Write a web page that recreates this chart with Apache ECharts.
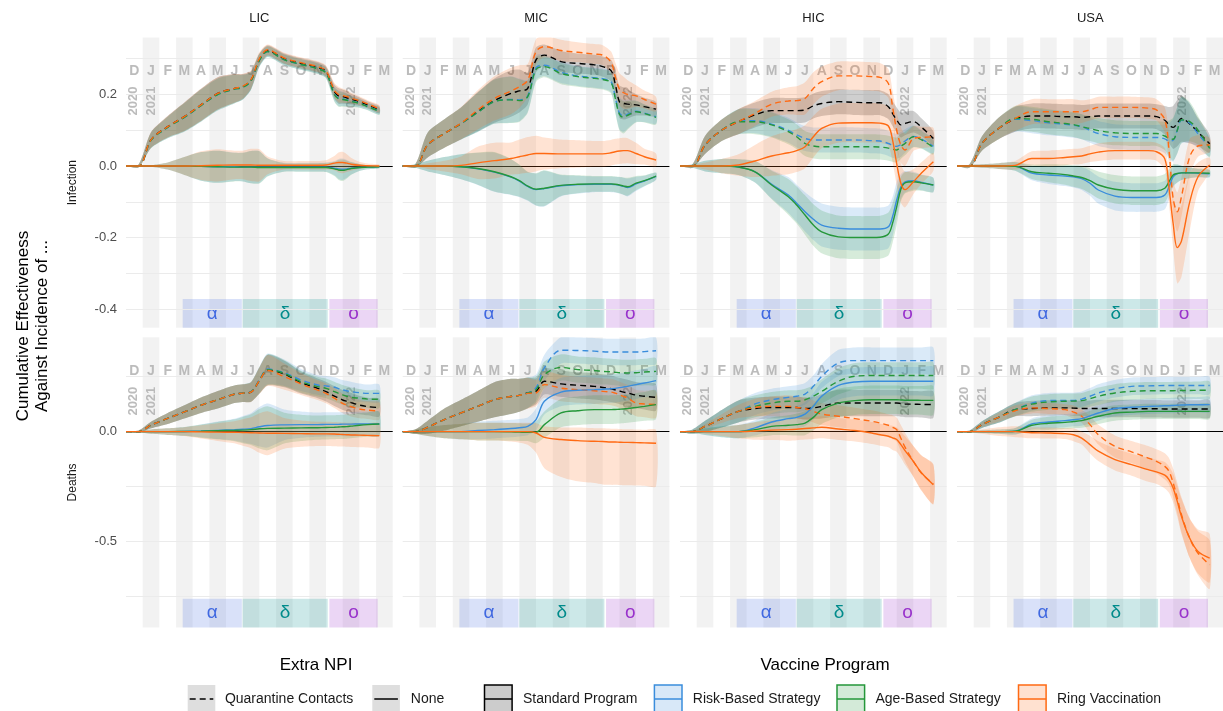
<!DOCTYPE html>
<html><head><meta charset="utf-8">
<script src="https://cdn.jsdelivr.net/npm/echarts@6/dist/echarts.min.js"></script>
<style>html,body{margin:0;padding:0;background:#fff}#c{width:1223px;height:711px}</style>
</head><body><div id="c"></div>
<script>
// ---------------- DATA ----------------
// x positions in months since 1 Dec 2020
const X = [0,0.75,1.5,2.5,3.5,4.5,5.5,6.5,7,7.5,8,8.5,9.5,10.5,11.5,12,12.5,12.75,13,13.25,13.5,14,14.5,15.2];
const MONTH_LETTERS = ['D','J','F','M','A','M','J','J','A','S','O','N','D','J','F','M'];
const SHADED_MONTHS = [1,3,5,7,9,11,13,15];
const YEAR_LABELS = ['2020','2021','2022'];
const YEAR_POS = [0.45,1.5,13.55];
const VARIANT_SYMBOLS = ['α','δ','ο'];
const VARIANT_START = [3.4,6.99,12.2];
const VARIANT_END = [6.95,12.1,15.1];
const REGIONS = ['LIC','MIC','HIC','USA'];
const OUTCOMES = ['Infection','Deaths'];
const NPIS = ['Quarantine Contacts','None'];
const PROGRAMS = ['Standard Program','Risk-Based Strategy','Age-Based Strategy','Ring Vaccination'];
const TICKS_INF = [-0.4,-0.2,0,0.2];
const TICKS_DTH = [-0.5,0];
const GRID_INF = [-0.4,-0.3,-0.2,-0.1,0.1,0.2,0.3];
const GRID_DTH = [-0.75,-0.5,-0.25,0.25];

// Infection
const inf_LIC_std_q = [0,0,0.073,0.11,0.138,0.171,0.203,0.217,0.222,0.24,0.297,0.323,0.3,0.287,0.276,0.264,0.208,0.196,0.194,0.191,0.187,0.18,0.171,0.157];
const inf_LIC_risk_q = [0,0,0.072,0.108,0.136,0.169,0.2,0.215,0.22,0.238,0.295,0.32,0.297,0.284,0.273,0.261,0.202,0.19,0.188,0.185,0.182,0.176,0.167,0.154];
const inf_LIC_age_q = [0,0,0.072,0.108,0.136,0.169,0.2,0.215,0.22,0.238,0.295,0.32,0.297,0.284,0.272,0.26,0.2,0.188,0.186,0.184,0.181,0.175,0.166,0.153];
const inf_LIC_ring_q = [0,0,0.073,0.11,0.138,0.171,0.203,0.217,0.223,0.242,0.3,0.325,0.302,0.289,0.278,0.266,0.212,0.2,0.197,0.194,0.19,0.183,0.174,0.16];
const inf_LIC_w_q = [0,0.004,0.022,0.03,0.04,0.045,0.045,0.04,0.035,0.025,0.018,0.015,0.015,0.015,0.015,0.015,0.02,0.022,0.02,0.018,0.015,0.012,0.01,0.01];
const inf_LIC_risk_n = [0,0,0,0,0,-0.001,-0.002,-0.002,-0.003,-0.003,-0.003,-0.003,-0.003,-0.003,-0.003,-0.003,-0.006,-0.008,-0.009,-0.008,-0.006,-0.004,-0.003,-0.002];
const inf_LIC_age_n = [0,0,0,0,0,-0.001,-0.002,-0.003,-0.003,-0.003,-0.004,-0.004,-0.004,-0.004,-0.004,-0.004,-0.008,-0.011,-0.012,-0.01,-0.007,-0.004,-0.003,-0.002];
const inf_LIC_ring_n = [0,0,0,0,0,0.001,0.002,0.003,0.003,0.003,0.002,0.002,0.002,0.002,0.002,0.003,0.008,0.01,0.01,0.008,0.005,0.002,0.001,0];
const inf_LIC_w_n = [0,0,0.002,0.01,0.025,0.04,0.045,0.04,0.04,0.045,0.045,0.025,0.012,0.012,0.012,0.013,0.02,0.028,0.03,0.025,0.018,0.01,0.006,0.004];

const inf_MIC_std_q = [0,0,0.059,0.091,0.119,0.152,0.183,0.203,0.21,0.217,0.297,0.31,0.292,0.287,0.283,0.278,0.267,0.23,0.18,0.175,0.173,0.171,0.166,0.159];
const inf_MIC_risk_q = [0,0,0.059,0.091,0.119,0.15,0.18,0.186,0.185,0.196,0.275,0.282,0.262,0.252,0.247,0.244,0.236,0.192,0.148,0.14,0.145,0.153,0.148,0.138];
const inf_MIC_age_q = [0,0,0.059,0.091,0.119,0.15,0.18,0.185,0.183,0.194,0.27,0.278,0.259,0.25,0.245,0.242,0.233,0.19,0.145,0.136,0.142,0.152,0.147,0.136];
const inf_MIC_ring_q = [0,0,0.059,0.091,0.12,0.157,0.189,0.21,0.222,0.24,0.32,0.334,0.323,0.318,0.313,0.31,0.29,0.25,0.215,0.205,0.2,0.196,0.186,0.173];
const inf_MIC_w_q = [0,0.005,0.035,0.04,0.045,0.055,0.062,0.065,0.06,0.045,0.035,0.03,0.03,0.028,0.028,0.028,0.03,0.04,0.045,0.045,0.04,0.03,0.025,0.02];
const inf_MIC_risk_n = [0,0,0,0,-0.002,-0.008,-0.017,-0.031,-0.042,-0.057,-0.066,-0.063,-0.055,-0.052,-0.051,-0.051,-0.051,-0.052,-0.054,-0.057,-0.06,-0.05,-0.042,-0.029];
const inf_MIC_age_n = [0,0,0,0,-0.002,-0.007,-0.016,-0.03,-0.041,-0.056,-0.065,-0.062,-0.054,-0.051,-0.05,-0.05,-0.05,-0.051,-0.053,-0.056,-0.058,-0.048,-0.041,-0.028];
const inf_MIC_ring_n = [0,0,0,0,0.002,0.009,0.015,0.021,0.026,0.031,0.035,0.035,0.034,0.034,0.034,0.034,0.037,0.04,0.042,0.043,0.043,0.035,0.026,0.017];
const inf_MIC_w_n = [0,0.005,0.015,0.025,0.035,0.045,0.055,0.05,0.045,0.04,0.045,0.05,0.03,0.025,0.022,0.022,0.022,0.022,0.023,0.024,0.025,0.02,0.015,0.01];
const inf_MIC_w_ring_n = [0,0.003,0.008,0.015,0.025,0.045,0.05,0.045,0.048,0.05,0.05,0.045,0.04,0.038,0.036,0.036,0.036,0.036,0.036,0.036,0.035,0.03,0.022,0.018];

const inf_HIC_std_q = [0,0,0.059,0.1,0.124,0.143,0.155,0.155,0.155,0.157,0.168,0.175,0.18,0.178,0.177,0.177,0.166,0.147,0.129,0.115,0.119,0.124,0.108,0.077];
const inf_HIC_risk_q = [0,0,0.059,0.1,0.124,0.127,0.117,0.1,0.087,0.077,0.073,0.073,0.073,0.073,0.071,0.07,0.063,0.058,0.055,0.06,0.07,0.083,0.075,0.055];
const inf_HIC_age_q = [0,0,0.059,0.1,0.124,0.124,0.115,0.096,0.082,0.063,0.056,0.054,0.054,0.054,0.054,0.053,0.05,0.047,0.045,0.055,0.063,0.082,0.073,0.052];
const inf_HIC_ring_q = [0,0,0.059,0.1,0.124,0.147,0.173,0.182,0.183,0.189,0.217,0.236,0.252,0.252,0.25,0.248,0.231,0.166,0.1,0.059,0.045,0.077,0.08,0.082];
const inf_HIC_w_q = [0,0.005,0.025,0.03,0.035,0.035,0.035,0.035,0.035,0.035,0.035,0.035,0.035,0.035,0.035,0.035,0.035,0.035,0.035,0.035,0.033,0.03,0.025,0.02];
const inf_HIC_w_ring_q = [0,0.005,0.025,0.03,0.035,0.035,0.035,0.038,0.04,0.045,0.045,0.042,0.04,0.04,0.04,0.04,0.04,0.045,0.05,0.05,0.045,0.035,0.03,0.025];
const inf_HIC_risk_n = [0,0,0,0,-0.003,-0.016,-0.051,-0.081,-0.104,-0.128,-0.149,-0.165,-0.174,-0.176,-0.176,-0.176,-0.17,-0.142,-0.095,-0.058,-0.044,-0.041,-0.046,-0.053];
const inf_HIC_age_n = [0,0,0,0,-0.003,-0.016,-0.053,-0.086,-0.109,-0.137,-0.165,-0.184,-0.198,-0.2,-0.2,-0.199,-0.19,-0.16,-0.114,-0.065,-0.047,-0.044,-0.047,-0.053];
const inf_HIC_ring_n = [0,0,0,0,0.003,0.014,0.028,0.037,0.043,0.054,0.082,0.105,0.12,0.121,0.121,0.12,0.112,0.073,0.007,-0.048,-0.066,-0.044,-0.019,0.012];
const inf_HIC_w_n = [0,0.005,0.015,0.02,0.022,0.03,0.04,0.05,0.052,0.055,0.058,0.06,0.06,0.06,0.06,0.06,0.06,0.055,0.05,0.035,0.03,0.025,0.022,0.02];
const inf_HIC_w_ring_n = [0,0.003,0.01,0.02,0.03,0.045,0.055,0.06,0.06,0.06,0.058,0.055,0.055,0.055,0.055,0.055,0.055,0.06,0.06,0.055,0.05,0.035,0.03,0.025];

const inf_USA_std_q = [0,0,0.063,0.105,0.131,0.14,0.14,0.138,0.138,0.136,0.138,0.14,0.14,0.14,0.14,0.138,0.128,0.115,0.108,0.12,0.133,0.118,0.095,0.062];
const inf_USA_risk_q = [0,0,0.063,0.105,0.131,0.127,0.121,0.117,0.114,0.11,0.1,0.091,0.082,0.08,0.08,0.08,0.076,0.07,0.072,0.1,0.128,0.12,0.09,0.052];
const inf_USA_age_q = [0,0,0.063,0.105,0.133,0.131,0.124,0.119,0.116,0.11,0.105,0.099,0.093,0.091,0.091,0.091,0.084,0.077,0.075,0.1,0.129,0.124,0.1,0.049];
const inf_USA_ring_q = [0,0,0.063,0.105,0.133,0.152,0.152,0.152,0.152,0.152,0.157,0.164,0.164,0.164,0.162,0.157,0.129,0.045,-0.09,-0.128,-0.086,0.026,0.056,0.059];
const inf_USA_w_q = [0,0.005,0.02,0.03,0.035,0.035,0.035,0.035,0.035,0.035,0.035,0.035,0.035,0.035,0.035,0.035,0.04,0.05,0.06,0.065,0.065,0.055,0.04,0.025];
const inf_USA_w_ring_q = [0,0.005,0.02,0.03,0.035,0.035,0.035,0.035,0.035,0.032,0.03,0.03,0.03,0.03,0.03,0.03,0.035,0.045,0.05,0.055,0.055,0.05,0.03,0.02];
const inf_USA_risk_n = [0,0,0,0,-0.001,-0.02,-0.025,-0.028,-0.03,-0.035,-0.048,-0.067,-0.084,-0.088,-0.088,-0.088,-0.081,-0.058,-0.03,-0.021,-0.019,-0.019,-0.02,-0.022];
const inf_USA_age_n = [0,0,0,0,-0.001,-0.016,-0.02,-0.024,-0.028,-0.032,-0.041,-0.053,-0.065,-0.069,-0.069,-0.069,-0.062,-0.044,-0.025,-0.021,-0.019,-0.019,-0.019,-0.02];
const inf_USA_ring_n = [0,0,0,0,0.002,0.021,0.021,0.024,0.026,0.028,0.034,0.039,0.043,0.043,0.043,0.04,0.02,-0.06,-0.16,-0.228,-0.21,-0.1,-0.03,0.003];
const inf_USA_w_n = [0,0.003,0.005,0.008,0.012,0.02,0.025,0.028,0.03,0.032,0.035,0.038,0.04,0.04,0.04,0.04,0.04,0.035,0.03,0.025,0.02,0.015,0.012,0.01];
const inf_USA_w_ring_n = [0,0.003,0.005,0.008,0.012,0.02,0.022,0.022,0.022,0.022,0.023,0.025,0.025,0.025,0.025,0.025,0.03,0.045,0.07,0.1,0.1,0.08,0.04,0.02];

// Deaths
const dth_LIC_std_q = [0,0,0.03,0.06,0.09,0.12,0.145,0.17,0.175,0.18,0.232,0.28,0.262,0.223,0.197,0.182,0.162,0.153,0.144,0.138,0.132,0.121,0.114,0.109];
const dth_LIC_risk_q = [0,0,0.03,0.06,0.09,0.12,0.145,0.17,0.175,0.182,0.235,0.285,0.268,0.235,0.212,0.208,0.202,0.196,0.19,0.186,0.182,0.177,0.174,0.174];
const dth_LIC_age_q = [0,0,0.03,0.06,0.09,0.12,0.145,0.17,0.175,0.181,0.233,0.282,0.265,0.227,0.205,0.197,0.182,0.174,0.167,0.161,0.156,0.152,0.148,0.147];
const dth_LIC_ring_q = [0,0,0.03,0.06,0.09,0.12,0.145,0.17,0.175,0.18,0.232,0.278,0.25,0.217,0.189,0.174,0.152,0.14,0.129,0.121,0.114,0.103,0.098,0.094];
const dth_LIC_w_q = [0,0.005,0.015,0.025,0.03,0.035,0.04,0.04,0.04,0.045,0.06,0.07,0.06,0.05,0.045,0.045,0.045,0.045,0.045,0.045,0.045,0.042,0.04,0.04];
const dth_LIC_risk_n = [0,0,0,0,0.001,0.003,0.006,0.009,0.011,0.014,0.022,0.028,0.031,0.032,0.032,0.033,0.033,0.033,0.034,0.034,0.034,0.035,0.035,0.035];
const dth_LIC_age_n = [0,0,0,0,0.001,0.002,0.004,0.006,0.007,0.009,0.013,0.015,0.016,0.017,0.018,0.019,0.02,0.021,0.022,0.023,0.025,0.029,0.032,0.035];
const dth_LIC_ring_n = [0,0,0,0,0,-0.001,-0.002,-0.003,-0.004,-0.005,-0.006,-0.007,-0.008,-0.009,-0.01,-0.01,-0.011,-0.012,-0.013,-0.014,-0.015,-0.016,-0.017,-0.018];
const dth_LIC_w_n = [0,0.003,0.01,0.015,0.02,0.03,0.04,0.05,0.06,0.07,0.09,0.1,0.07,0.06,0.055,0.055,0.055,0.055,0.055,0.055,0.055,0.055,0.055,0.055];

const dth_MIC_std_q = [0,0,0.02,0.055,0.085,0.115,0.145,0.16,0.165,0.176,0.183,0.229,0.217,0.211,0.206,0.201,0.195,0.19,0.185,0.18,0.176,0.166,0.161,0.156];
const dth_MIC_risk_q = [0,0,0.02,0.055,0.085,0.115,0.145,0.16,0.165,0.176,0.2,0.29,0.37,0.369,0.366,0.363,0.362,0.362,0.362,0.362,0.362,0.362,0.364,0.368];
const dth_MIC_age_q = [0,0,0.02,0.055,0.085,0.115,0.145,0.16,0.165,0.176,0.191,0.259,0.292,0.282,0.278,0.274,0.272,0.27,0.268,0.267,0.267,0.268,0.271,0.274];
const dth_MIC_ring_q = [0,0,0.02,0.055,0.085,0.115,0.145,0.16,0.165,0.174,0.176,0.214,0.198,0.191,0.186,0.183,0.18,0.175,0.168,0.16,0.153,0.13,0.126,0.123];
const dth_MIC_w_q = [0,0.01,0.03,0.05,0.06,0.07,0.08,0.08,0.075,0.07,0.06,0.06,0.06,0.06,0.06,0.06,0.06,0.06,0.06,0.06,0.06,0.06,0.06,0.06];
const dth_MIC_risk_n = [0,0,0,0,0,0.005,0.009,0.014,0.018,0.024,0.055,0.138,0.18,0.188,0.191,0.193,0.195,0.197,0.2,0.203,0.206,0.214,0.221,0.232];
const dth_MIC_age_n = [0,0,0,0,0,0,0,-0.001,-0.002,-0.003,-0.003,0.032,0.085,0.095,0.1,0.1,0.1,0.101,0.102,0.103,0.105,0.11,0.115,0.123];
const dth_MIC_ring_n = [0,0,0,0,0,0,0,0,0,0,-0.006,-0.026,-0.036,-0.041,-0.044,-0.045,-0.047,-0.047,-0.048,-0.049,-0.049,-0.05,-0.051,-0.053];
const dth_MIC_w_n = [0,0.01,0.02,0.03,0.035,0.04,0.04,0.04,0.04,0.04,0.05,0.06,0.065,0.065,0.065,0.065,0.065,0.065,0.065,0.065,0.065,0.065,0.065,0.065];
const dth_MIC_wup_ring_n = [0,0.01,0.02,0.03,0.035,0.04,0.04,0.04,0.04,0.04,0.045,0.05,0.055,0.06,0.06,0.06,0.06,0.06,0.06,0.06,0.06,0.06,0.06,0.06];
const dth_MIC_wlo_ring_n = [0,0.01,0.02,0.03,0.035,0.04,0.04,0.045,0.05,0.06,0.09,0.14,0.17,0.185,0.19,0.195,0.195,0.195,0.195,0.195,0.195,0.195,0.195,0.195];

const dth_HIC_std_q = [0,0,0.024,0.059,0.092,0.105,0.11,0.11,0.11,0.105,0.108,0.115,0.13,0.13,0.13,0.13,0.13,0.13,0.13,0.128,0.126,0.125,0.124,0.123];
const dth_HIC_risk_q = [0,0,0.024,0.059,0.092,0.126,0.145,0.156,0.161,0.171,0.206,0.252,0.312,0.323,0.323,0.323,0.323,0.323,0.323,0.323,0.323,0.323,0.323,0.323];
const dth_HIC_age_q = [0,0,0.024,0.059,0.092,0.115,0.13,0.138,0.138,0.145,0.161,0.183,0.229,0.252,0.255,0.255,0.255,0.255,0.255,0.255,0.255,0.255,0.255,0.255];
const dth_HIC_ring_q = [0,0,0.024,0.059,0.092,0.11,0.115,0.115,0.11,0.105,0.092,0.08,0.07,0.059,0.047,0.039,0.029,0.02,0.009,-0.03,-0.07,-0.135,-0.19,-0.238];
const dth_HIC_w_q = [0,0.01,0.025,0.04,0.05,0.05,0.05,0.05,0.05,0.05,0.05,0.055,0.06,0.06,0.06,0.06,0.06,0.06,0.06,0.06,0.06,0.06,0.06,0.06];
const dth_HIC_risk_n = [0,0,0,0,0,0.017,0.044,0.059,0.065,0.08,0.115,0.161,0.21,0.226,0.229,0.229,0.229,0.229,0.229,0.229,0.229,0.229,0.229,0.229];
const dth_HIC_age_n = [0,0,0,0,0,0.009,0.024,0.029,0.032,0.039,0.065,0.1,0.13,0.141,0.145,0.145,0.145,0.145,0.145,0.144,0.143,0.143,0.142,0.142];
const dth_HIC_ring_n = [0,0,0,0,0,0.003,0.007,0.009,0.011,0.014,0.017,0.02,0.012,0.005,-0.006,-0.014,-0.021,-0.028,-0.036,-0.059,-0.086,-0.135,-0.188,-0.241];
const dth_HIC_w_n = [0,0.005,0.015,0.025,0.03,0.035,0.04,0.045,0.05,0.055,0.06,0.065,0.065,0.065,0.065,0.065,0.065,0.065,0.065,0.065,0.065,0.065,0.065,0.065];
const dth_HIC_w_ring_n = [0,0.005,0.01,0.02,0.03,0.04,0.045,0.05,0.05,0.05,0.05,0.05,0.05,0.05,0.05,0.05,0.05,0.055,0.055,0.06,0.065,0.07,0.08,0.09];

const dth_USA_std_q = [0,0,0.032,0.065,0.1,0.105,0.108,0.108,0.107,0.105,0.105,0.105,0.105,0.105,0.104,0.104,0.103,0.103,0.103,0.103,0.103,0.103,0.103,0.103];
const dth_USA_risk_q = [0,0,0.032,0.065,0.1,0.13,0.141,0.142,0.142,0.148,0.161,0.176,0.195,0.206,0.208,0.209,0.21,0.21,0.21,0.21,0.21,0.21,0.21,0.21];
const dth_USA_age_q = [0,0,0.032,0.065,0.1,0.125,0.135,0.138,0.139,0.141,0.15,0.161,0.176,0.183,0.186,0.186,0.186,0.186,0.186,0.187,0.187,0.187,0.188,0.188];
const dth_USA_ring_q = [0,0,0.032,0.065,0.095,0.108,0.105,0.1,0.089,0.07,0.032,-0.014,-0.067,-0.092,-0.12,-0.135,-0.158,-0.18,-0.233,-0.302,-0.377,-0.485,-0.553,-0.605];
const dth_USA_w_q = [0,0.005,0.015,0.025,0.03,0.035,0.035,0.035,0.035,0.035,0.037,0.04,0.04,0.04,0.04,0.04,0.04,0.04,0.04,0.04,0.04,0.04,0.04,0.04];
const dth_USA_w_ring = [0,0.003,0.01,0.02,0.025,0.025,0.025,0.025,0.03,0.03,0.04,0.045,0.05,0.05,0.055,0.055,0.06,0.06,0.065,0.07,0.08,0.09,0.1,0.11];
const dth_USA_risk_n = [0,0,0,0,0.002,0.035,0.044,0.05,0.054,0.059,0.072,0.085,0.105,0.111,0.115,0.116,0.118,0.118,0.119,0.12,0.121,0.122,0.122,0.123];
const dth_USA_age_n = [0,0,0,0,0.002,0.029,0.038,0.042,0.046,0.05,0.06,0.07,0.085,0.089,0.092,0.092,0.092,0.092,0.092,0.092,0.092,0.092,0.092,0.092];
const dth_USA_ring_n = [0,0,0,0,0,-0.005,-0.006,-0.009,-0.014,-0.029,-0.059,-0.089,-0.127,-0.15,-0.173,-0.183,-0.198,-0.218,-0.256,-0.317,-0.385,-0.485,-0.545,-0.575];
const dth_USA_w_n = [0,0.003,0.006,0.01,0.015,0.025,0.03,0.03,0.03,0.032,0.035,0.035,0.035,0.035,0.035,0.035,0.035,0.035,0.035,0.035,0.035,0.035,0.035,0.035];

// panel -> [program, npi, mean, upper half-width, (optional) lower half-width]
const PANELS = [
 [0,'LIC',[['std','q',inf_LIC_std_q,inf_LIC_w_q],['risk','q',inf_LIC_risk_q,inf_LIC_w_q],['age','q',inf_LIC_age_q,inf_LIC_w_q],['ring','q',inf_LIC_ring_q,inf_LIC_w_q],
           ['risk','n',inf_LIC_risk_n,inf_LIC_w_n],['age','n',inf_LIC_age_n,inf_LIC_w_n],['ring','n',inf_LIC_ring_n,inf_LIC_w_n]]],
 [0,'MIC',[['std','q',inf_MIC_std_q,inf_MIC_w_q],['risk','q',inf_MIC_risk_q,inf_MIC_w_q],['age','q',inf_MIC_age_q,inf_MIC_w_q],['ring','q',inf_MIC_ring_q,inf_MIC_w_q],
           ['risk','n',inf_MIC_risk_n,inf_MIC_w_n],['age','n',inf_MIC_age_n,inf_MIC_w_n],['ring','n',inf_MIC_ring_n,inf_MIC_w_ring_n]]],
 [0,'HIC',[['std','q',inf_HIC_std_q,inf_HIC_w_q],['risk','q',inf_HIC_risk_q,inf_HIC_w_q],['age','q',inf_HIC_age_q,inf_HIC_w_q],['ring','q',inf_HIC_ring_q,inf_HIC_w_ring_q],
           ['risk','n',inf_HIC_risk_n,inf_HIC_w_n],['age','n',inf_HIC_age_n,inf_HIC_w_n],['ring','n',inf_HIC_ring_n,inf_HIC_w_ring_n]]],
 [0,'USA',[['std','q',inf_USA_std_q,inf_USA_w_q],['risk','q',inf_USA_risk_q,inf_USA_w_q],['age','q',inf_USA_age_q,inf_USA_w_q],['ring','q',inf_USA_ring_q,inf_USA_w_ring_q],
           ['risk','n',inf_USA_risk_n,inf_USA_w_n],['age','n',inf_USA_age_n,inf_USA_w_n],['ring','n',inf_USA_ring_n,inf_USA_w_ring_n]]],
 [1,'LIC',[['std','q',dth_LIC_std_q,dth_LIC_w_q],['risk','q',dth_LIC_risk_q,dth_LIC_w_q],['age','q',dth_LIC_age_q,dth_LIC_w_q],['ring','q',dth_LIC_ring_q,dth_LIC_w_q],
           ['risk','n',dth_LIC_risk_n,dth_LIC_w_n],['age','n',dth_LIC_age_n,dth_LIC_w_n],['ring','n',dth_LIC_ring_n,dth_LIC_w_n]]],
 [1,'MIC',[['std','q',dth_MIC_std_q,dth_MIC_w_q],['risk','q',dth_MIC_risk_q,dth_MIC_w_q],['age','q',dth_MIC_age_q,dth_MIC_w_q],['ring','q',dth_MIC_ring_q,dth_MIC_w_q],
           ['risk','n',dth_MIC_risk_n,dth_MIC_w_n],['age','n',dth_MIC_age_n,dth_MIC_w_n],['ring','n',dth_MIC_ring_n,dth_MIC_wup_ring_n,dth_MIC_wlo_ring_n]]],
 [1,'HIC',[['std','q',dth_HIC_std_q,dth_HIC_w_q],['risk','q',dth_HIC_risk_q,dth_HIC_w_q],['age','q',dth_HIC_age_q,dth_HIC_w_q],['ring','q',dth_HIC_ring_q,dth_HIC_w_ring_n],
           ['risk','n',dth_HIC_risk_n,dth_HIC_w_n],['age','n',dth_HIC_age_n,dth_HIC_w_n],['ring','n',dth_HIC_ring_n,dth_HIC_w_ring_n]]],
 [1,'USA',[['std','q',dth_USA_std_q,dth_USA_w_q],['risk','q',dth_USA_risk_q,dth_USA_w_q],['age','q',dth_USA_age_q,dth_USA_w_q],['ring','q',dth_USA_ring_q,dth_USA_w_ring],
           ['risk','n',dth_USA_risk_n,dth_USA_w_n],['age','n',dth_USA_age_n,dth_USA_w_n],['ring','n',dth_USA_ring_n,dth_USA_w_ring]]]
];

// ---------------- LAYOUT / STYLE ----------------
const FONT = '"Liberation Sans", Arial, Helvetica, sans-serif';
const COLORS = {std:'#000000', risk:'#3a8ddc', age:'#25973a', ring:'#ff6a13'};
const PROG_KEYS = ['std','risk','age','ring'];
const RIBBON_ALPHA = 0.19;
const SMOOTH = 0.35;
const COL_LEFT = [126, 402.7, 680, 957];
const PANEL_W = 266.7;
const ROW_TOP = [37.5, 337.3];
const PANEL_H = 290.3;
const Y_RANGE = [[-0.4523, 0.3594], [-0.891, 0.429]];
const MONTH_Y = [0.266, 0.276];
const YEAR_Y = [0.222, 0.2045];
const BAND_TOP = [-0.372, -0.76];
const VARIANT_FILL = ['rgba(65,105,225,0.2)','rgba(0,139,139,0.2)','rgba(153,50,204,0.2)'];
const VARIANT_TEXT = ['#4169e1','#008b8b','#9932cc'];

const chart = echarts.init(document.getElementById('c'), null, {renderer:'canvas'});
const grids = [], xAxes = [], yAxes = [], series = [];

PANELS.forEach(([r, reg, items]) => {
  const c = REGIONS.indexOf(reg);
  const gi = grids.length;
  const base = {xAxisIndex: gi, yAxisIndex: gi, silent: true, animation: false};
  grids.push({left: COL_LEFT[c], top: ROW_TOP[r], width: PANEL_W, height: PANEL_H});
  xAxes.push({gridIndex: gi, type: 'value', min: 0, max: 16, show: false});
  yAxes.push({gridIndex: gi, type: 'value', min: Y_RANGE[r][0], max: Y_RANGE[r][1],
    axisLine: {show: false}, axisTick: {show: false}, splitLine: {show: false},
    axisLabel: {show: c === 0, customValues: r === 0 ? TICKS_INF : TICKS_DTH,
      formatter: v => (Math.abs(v) < 1e-9 ? '0.0' : v.toFixed(1)),
      color: '#4d4d4d', fontSize: 13, fontFamily: FONT, margin: 9}});
  series.push({...base, type: 'line', data: [], z: 1,
    markLine: {silent: true, symbol: ['none','none'], label: {show: false}, animation: false,
      lineStyle: {color: '#ebebeb', width: 1, type: 'solid'},
      data: (r === 0 ? GRID_INF : GRID_DTH).map(v => ({yAxis: v}))}});
  series.push({...base, type: 'line', data: [], z: 2,
    markArea: {silent: true, animation: false, itemStyle: {color: 'rgba(0,0,0,0.05)'},
      data: SHADED_MONTHS.map(m => [{xAxis: m}, {xAxis: m + 1}])}});
  series.push({...base, type: 'line', data: [], z: 3,
    markArea: {silent: true, animation: false,
      data: VARIANT_SYMBOLS.map((s, i) => [
        {xAxis: VARIANT_START[i], yAxis: BAND_TOP[r], itemStyle: {color: VARIANT_FILL[i]},
         label: {show: true, position: 'inside', formatter: s, color: VARIANT_TEXT[i], fontSize: 19, fontFamily: FONT}},
        {xAxis: VARIANT_END[i], yAxis: Y_RANGE[r][0]}])}});
  series.push({...base, type: 'scatter', z: 4, symbolSize: 1, itemStyle: {color: 'rgba(0,0,0,0)'},
    data: MONTH_LETTERS.map((l, i) => [i + 0.5, MONTH_Y[r], l]),
    label: {show: true, position: 'inside', formatter: p => p.value[2], color: '#ababab',
      fontWeight: 'bold', fontSize: 14, fontFamily: FONT}});
  series.push({...base, type: 'scatter', z: 4, symbolSize: 1, itemStyle: {color: 'rgba(0,0,0,0)'},
    data: YEAR_LABELS.map((l, i) => [YEAR_POS[i], YEAR_Y[r], l]),
    label: {show: true, position: 'inside', rotate: 90, align: 'right', verticalAlign: 'middle',
      formatter: p => p.value[2], color: '#ababab', fontWeight: 'bold', fontSize: 13, fontFamily: FONT}});
  // ribbons: one polygon per series, drawn through the grid's scales
  items.forEach(([prog, npi, mid, wUp, wLo]) => {
    const lo = wLo || wUp;
    if (mid.length !== X.length || wUp.length !== X.length || lo.length !== X.length) throw new Error('length ' + reg + prog + npi);
    const band = X.map((x, i) => [x, mid[i] - lo[i], mid[i] + wUp[i]]);
    series.push({...base, type: 'custom', z: 5, clip: true, data: [[0, 0]],
      renderItem: (params, api) => {
        const up = band.map(d => api.coord([d[0], d[2]]));
        const dn = band.map(d => api.coord([d[0], d[1]])).reverse();
        return {type: 'polygon', shape: {points: up.concat(dn), smooth: 0.25},
          style: {fill: COLORS[prog], opacity: RIBBON_ALPHA}};
      }});
  });
  series.push({...base, type: 'line', data: [], z: 6,
    markLine: {silent: true, symbol: ['none','none'], label: {show: false}, animation: false,
      lineStyle: {color: '#000', width: 1.2, type: 'solid'}, data: [{yAxis: 0}]}});
  items.forEach(([prog, npi, mid]) => {
    series.push({...base, type: 'line', z: 7, symbol: 'none', smooth: SMOOTH,
      lineStyle: {color: COLORS[prog], width: 1.4, type: npi === 'q' ? [6, 4] : 'solid'},
      data: X.map((x, i) => [x, mid[i]])});
  });
});

// ---------------- TEXT / LEGEND ----------------
const graphics = [];
REGIONS.forEach((reg, c) => graphics.push({type: 'text', x: COL_LEFT[c] + PANEL_W / 2, y: 18,
  style: {text: reg, fill: '#1a1a1a', fontSize: 13, fontFamily: FONT, align: 'center', verticalAlign: 'middle'}}));
OUTCOMES.forEach((o, r) => graphics.push({type: 'text', x: 72.5, y: ROW_TOP[r] + PANEL_H / 2, rotation: Math.PI / 2,
  style: {text: o, fill: '#1a1a1a', fontSize: 12, fontFamily: FONT, align: 'center', verticalAlign: 'middle'}}));
graphics.push({type: 'text', x: 33, y: 326, rotation: Math.PI / 2,
  style: {text: 'Cumulative Effectiveness\nAgainst Incidence of ...', fill: '#000', fontSize: 17, lineHeight: 19.5,
    fontFamily: FONT, align: 'center', verticalAlign: 'middle'}});
graphics.push({type: 'text', x: 316, y: 665, style: {text: 'Extra NPI', fill: '#000', fontSize: 17, fontFamily: FONT, align: 'center', verticalAlign: 'middle'}});
graphics.push({type: 'text', x: 825, y: 665, style: {text: 'Vaccine Program', fill: '#000', fontSize: 17, fontFamily: FONT, align: 'center', verticalAlign: 'middle'}});
const KEY_Y = 685, KEY_W = 27.6, KEY_H = 28, LEG_TY = 699;
const NPI_KEY_X = [187.7, 372.3], NPI_TEXT_X = [224.9, 410.8];
const PROG_KEY_X = [484.5, 654.4, 837, 1018.5], PROG_TEXT_X = [523, 692.8, 875.5, 1057];
NPIS.forEach((name, i) => {
  graphics.push({type: 'rect', shape: {x: NPI_KEY_X[i], y: KEY_Y, width: KEY_W, height: KEY_H}, style: {fill: '#dedede'}});
  graphics.push({type: 'line', shape: {x1: NPI_KEY_X[i] + 2, y1: LEG_TY, x2: NPI_KEY_X[i] + KEY_W - 2, y2: LEG_TY},
    style: {stroke: '#000', lineWidth: 1.5, lineDash: i === 0 ? [6, 4] : null}});
  graphics.push({type: 'text', x: NPI_TEXT_X[i], y: LEG_TY, style: {text: name, fill: '#1a1a1a', fontSize: 14, fontFamily: FONT, align: 'left', verticalAlign: 'middle'}});
});
PROGRAMS.forEach((name, i) => {
  const col = COLORS[PROG_KEYS[i]];
  graphics.push({type: 'rect', shape: {x: PROG_KEY_X[i], y: KEY_Y, width: KEY_W, height: KEY_H},
    style: {fill: echarts.color.modifyAlpha(col, 0.2), stroke: col, lineWidth: 1.5}});
  graphics.push({type: 'line', shape: {x1: PROG_KEY_X[i], y1: LEG_TY, x2: PROG_KEY_X[i] + KEY_W, y2: LEG_TY},
    style: {stroke: col, lineWidth: 1.5}});
  graphics.push({type: 'text', x: PROG_TEXT_X[i], y: LEG_TY, style: {text: name, fill: '#1a1a1a', fontSize: 14, fontFamily: FONT, align: 'left', verticalAlign: 'middle'}});
});

chart.setOption({animation: false, grid: grids, xAxis: xAxes, yAxis: yAxes, series, graphic: graphics});
</script></body></html>
